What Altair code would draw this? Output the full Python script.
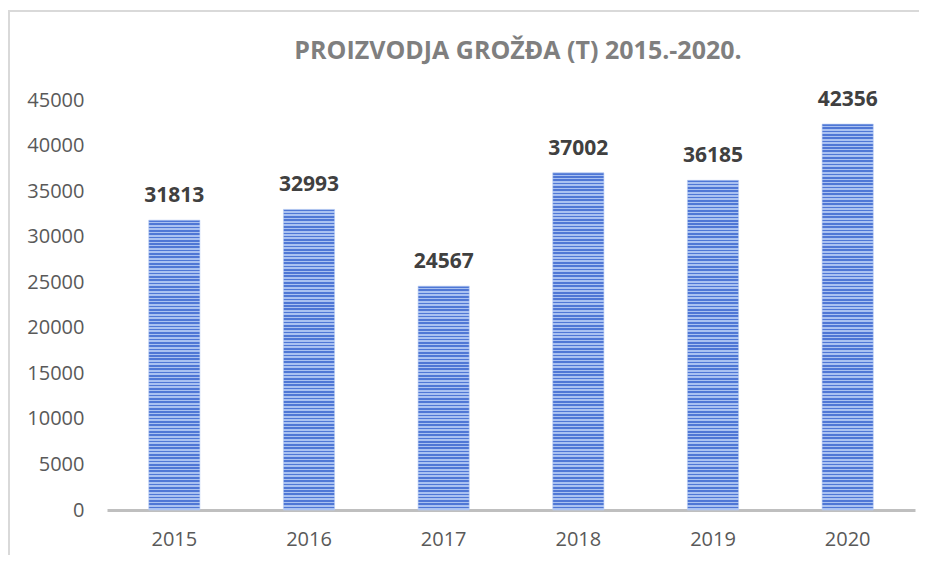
import altair as alt
import pandas as pd

years = ["2015", "2016", "2017", "2018", "2019", "2020"]
values = [31813, 32993, 24567, 37002, 36185, 42356]
y_ticks = [0, 5000, 10000, 15000, 20000, 25000, 30000, 35000, 40000, 45000]
title_text = "PROIZVODJA GROŽĐA (T) 2015.-2020."

df = pd.DataFrame({"year": years, "value": values})
one = pd.DataFrame({"t": [title_text]})

W, H = 808, 410
YMAX = 45000
DARK = "#4f77d5"
LIGHT = "#a9c1f1"
FONT = "Open Sans"

x_enc = alt.X("year:N", sort=years,
              scale=alt.Scale(paddingInner=0.62, paddingOuter=0.31),
              axis=alt.Axis(title=None, labelAngle=0, ticks=False, domain=True,
                            domainColor="#bfbfbf", domainWidth=3, labelFontSize=20,
                            labelColor="#595959", labelFont=FONT, labelPadding=19))
y_enc = alt.Y("value:Q", scale=alt.Scale(domain=[0, YMAX], nice=False),
              axis=alt.Axis(title=None, values=y_ticks, format="d", grid=False,
                            ticks=False, domain=False, labelFontSize=20,
                            labelColor="#595959", labelFont=FONT, labelPadding=23))


def stripes(v):
    h = v / YMAX * H
    n = max(1, round(h / 3.3))
    stops = []
    for i in range(n):
        a = i / n
        m = (i + 0.5) / n
        b = (i + 1) / n
        stops += [alt.GradientStop(offset=a, color=DARK),
                  alt.GradientStop(offset=m, color=DARK),
                  alt.GradientStop(offset=m, color=LIGHT),
                  alt.GradientStop(offset=b, color=LIGHT)]
    return alt.LinearGradient(gradient="linear", x1=0, y1=0, x2=0, y2=1, stops=stops)


base = alt.Chart(df)
layers = []
for yr, v in zip(years, values):
    layers.append(
        base.transform_filter(alt.datum.year == yr)
        .mark_bar(color=stripes(v), stroke="#b9ccf3", strokeWidth=0.6)
        .encode(x=x_enc, y=y_enc)
    )

labels = base.mark_text(dy=-24, fontSize=21, fontWeight="bold", color="#404040",
                        font=FONT).encode(x=x_enc, y=y_enc,
                                          text=alt.Text("value:Q", format="d"))

single = alt.Chart(one)
border_left = single.mark_rule(color="#d9d9d9", strokeWidth=2).encode(
    x=alt.value(-98), y=alt.value(-90), y2=alt.value(470))
border_top = single.mark_rule(color="#d9d9d9", strokeWidth=2).encode(
    x=alt.value(-98), x2=alt.value(812), y=alt.value(-89))
title = single.mark_text(fontSize=25, fontWeight="bold", color="#7f7f7f", font=FONT,
                         align="center", baseline="alphabetic").encode(
    text="t:N", x=alt.value(411), y=alt.value(-41))

chart = alt.layer(border_left, border_top, *layers, labels, title).properties(
    width=W, height=H,
    autosize=alt.AutoSizeParams(type="none"),
    padding={"left": 99, "top": 92, "right": 5, "bottom": 45},
).configure_view(stroke=None)

chart.save("out.html", embed_options={"renderer": "svg", "actions": False})
